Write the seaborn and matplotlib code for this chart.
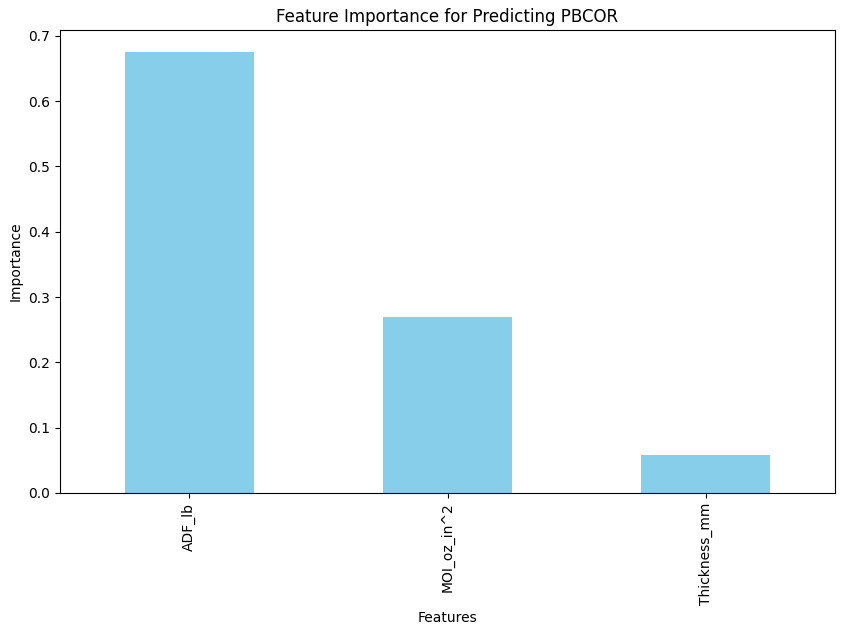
import matplotlib
matplotlib.use("Agg")
import matplotlib.pyplot as plt
import seaborn as sns
import pandas as pd

features = ["ADF_lb", "MOI_oz_in^2", "Thickness_mm"]
importance = [0.675, 0.269, 0.058]

df = pd.DataFrame({"Features": features, "Importance": importance})

fig = plt.figure(figsize=(8.46, 6.35), dpi=100)
ax = fig.add_axes([60/846, 1-493/635, 775/846, 463/635])
sns.barplot(data=df, x="Features", y="Importance", color="skyblue", width=0.5, saturation=1, ax=ax)
ax.set_xlim(-0.5, 2.5)
ax.set_title("Feature Importance for Predicting PBCOR")
ax.set_xlabel("Features")
ax.set_ylabel("Importance")
ax.tick_params(axis="x", rotation=90)
fig.savefig("out.png", dpi=100)
